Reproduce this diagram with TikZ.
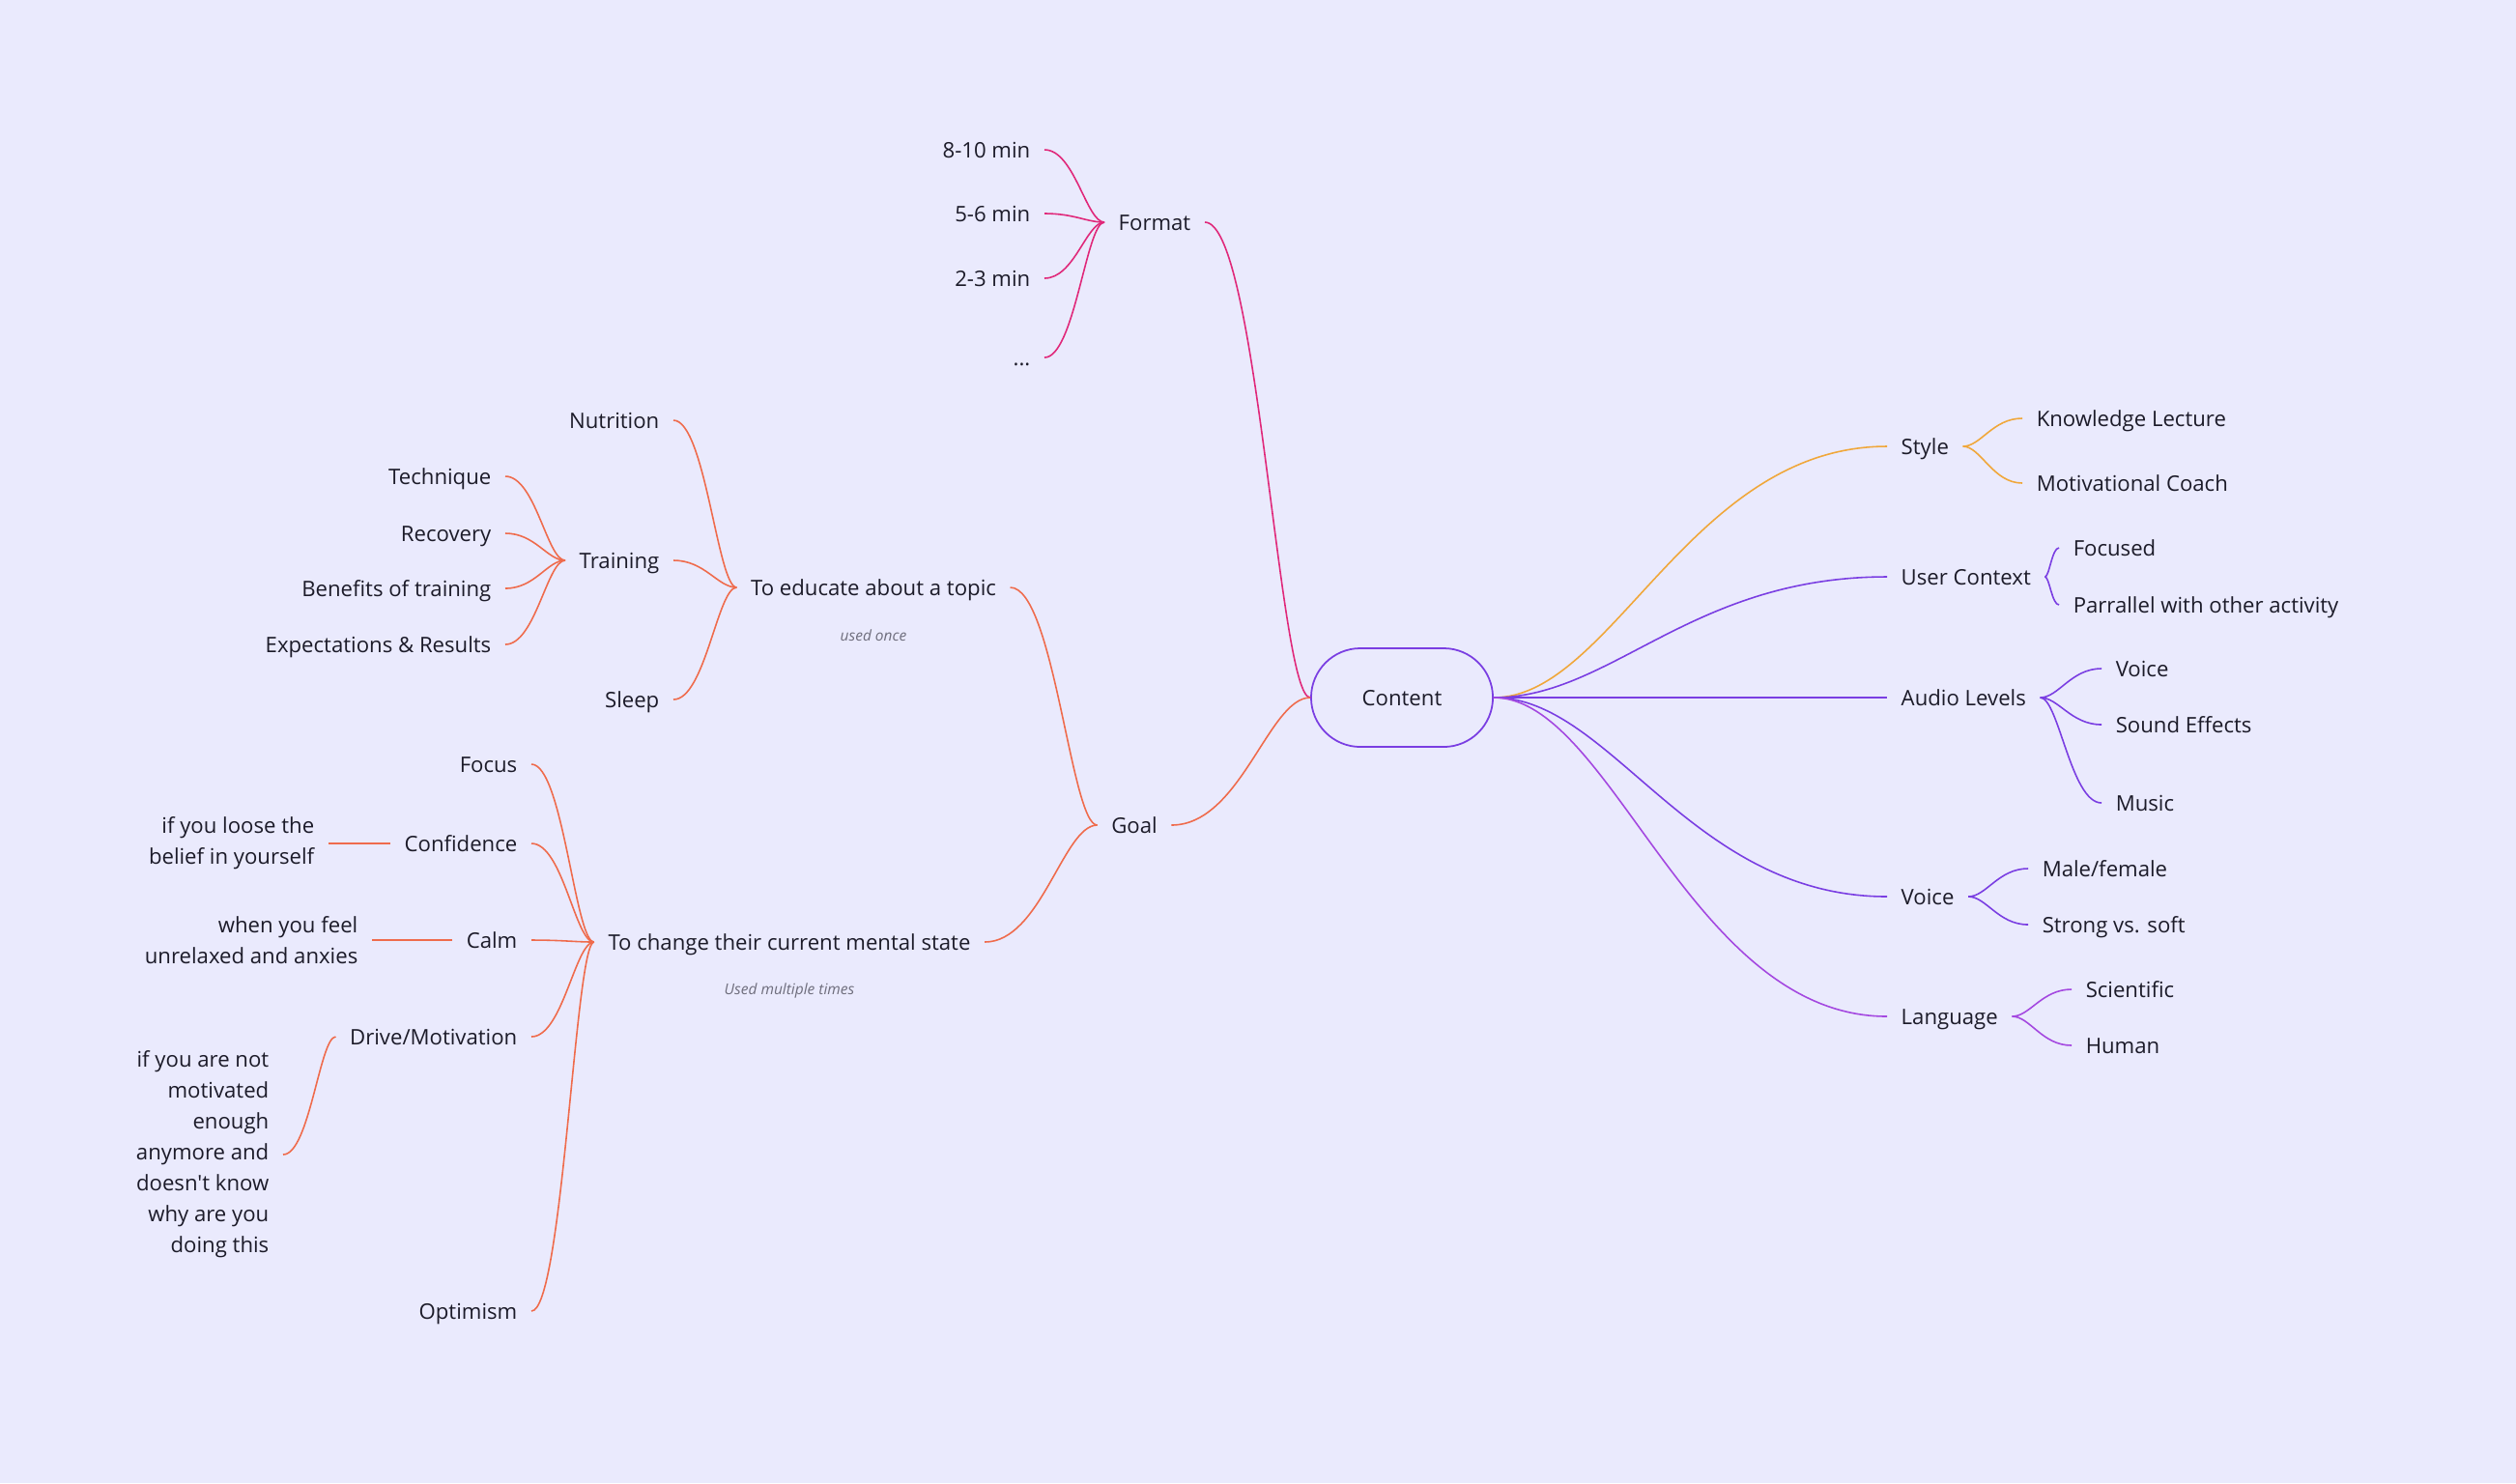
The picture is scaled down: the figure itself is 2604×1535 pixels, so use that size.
\documentclass[tikz,border=0pt]{standalone}
\usepackage{fontspec}
\setmainfont{Open Sans}[Ligatures=TeXOff]
\usetikzlibrary{positioning, calc}
\definecolor{mapbg}{HTML}{EAEAFD}
\definecolor{mapink}{HTML}{1C1B29}
\definecolor{mapnote}{HTML}{6E6D7C}
\definecolor{mappink}{HTML}{E0287A}
\definecolor{mapcoral}{HTML}{EF6B4C}
\definecolor{mapamber}{HTML}{F0A73A}
\definecolor{mapviolet}{HTML}{7A3EE2}
\definecolor{mapplum}{HTML}{A448E0}
% curved branch: parent anchor first, child anchor second
\newcommand{\branch}[3]{%
  \draw[#1] let \p1=(#2), \p2=(#3) in
    (\p1) .. controls ({\x1+0.3*(\x2-\x1)},\y1) and ({\x1+0.5*(\x2-\x1)},\y2) .. (\p2);}

\begin{document}
\begin{tikzpicture}[x=0.01cm, y=-0.01cm,
      base/.style={font=\fontsize{6.3}{9.1}\selectfont, text=mapink,
                   inner xsep=0.14cm, inner ysep=1pt},
      topic/.style={base, text height=6.5pt, text depth=1.5pt},
      aside/.style={base, align=right},
      note/.style={font=\fontsize{4.4}{5}\selectfont\itshape, text=mapnote,
                   inner sep=1pt},
      hub/.style={topic, draw=mapviolet, line width=0.5pt,
                  rounded corners=5.1mm, minimum width=1.88cm,
                  minimum height=1.02cm},
      pinkline/.style={draw=mappink, line width=0.45pt},
      coralline/.style={draw=mapcoral, line width=0.45pt},
      amberline/.style={draw=mapamber, line width=0.45pt},
      violetline/.style={draw=mapviolet, line width=0.45pt},
      plumline/.style={draw=mapplum, line width=0.45pt}]
    \fill[mapbg] (0,0) rectangle (2604,1535);
    \useasboundingbox (0,0) rectangle (2604,1535);

    \node[hub] (content) at (1451,722) {Content};

    % format
    \node[topic] (format) at (1195,230) {Format};
    \node[topic, anchor=east] (f810) at (1081,155) {8-10 min};
    \node[topic, anchor=east] (f56) at (1081,221) {5-6 min};
    \node[topic, anchor=east] (f23) at (1081,288) {2-3 min};
    \node[topic, anchor=east] (fmore) at (1081,370) {...};

    % goal
    \node[topic] (goal) at (1174,854) {Goal};
    \node[topic] (educate) at (904,608) {To educate about a topic};
    \node[note, below=0.21cm of educate] (once) {used once};
    \node[topic, anchor=east] (nutrition) at (697,435) {Nutrition};
    \node[topic] (training) at (641,580) {Training};
    \node[topic, anchor=east] (sleep) at (697,724) {Sleep};
    \node[topic, anchor=east] (technique) at (523,493) {Technique};
    \node[topic, anchor=east] (recovery) at (523,552) {Recovery};
    \node[topic, anchor=east] (benefits) at (523,609) {Benefits of training};
    \node[topic, anchor=east] (expect) at (523,667) {Expectations \& Results};

    \node[topic] (mental) at (817,975) {To change their current mental state};
    \node[note, below=0.2cm of mental] (often) {Used multiple times};
    \node[topic, anchor=east] (focus) at (550,791) {Focus};
    \node[topic, anchor=east] (confidence) at (550,873) {Confidence};
    \node[topic, anchor=east] (calm) at (550,973) {Calm};
    \node[topic, anchor=east] (drive) at (550,1073) {Drive/Motivation};
    \node[topic, anchor=east] (optimism) at (550,1357) {Optimism};
    \node[aside, left=0.64cm of confidence] (belief)
      {if you loose the\\belief in yourself};
    \node[aside, left=0.83cm of calm] (anxious)
      {when you feel\\unrelaxed and anxies};
    \node[aside, anchor=east] (purpose) at (293,1195)
      {if you are not\\motivated\\enough\\anymore and\\doesn't know\\why are you\\doing this};

    % right side
    \node[topic, anchor=west] (style) at (1953,462) {Style};
    \node[topic, anchor=west] (knowledge) at (2093,433) {Knowledge Lecture};
    \node[topic, anchor=west] (coach) at (2093,500) {Motivational Coach};
    \node[topic, anchor=west] (context) at (1953,597) {User Context};
    \node[topic, anchor=west] (focused) at (2131,567) {Focused};
    \node[topic, anchor=west] (parallel) at (2131,626) {Parrallel with other activity};
    \node[topic, anchor=west] (audio) at (1953,722) {Audio Levels};
    \node[topic, anchor=west] (avoice) at (2175,692) {Voice};
    \node[topic, anchor=west] (effects) at (2175,750) {Sound Effects};
    \node[topic, anchor=west] (music) at (2175,831) {Music};
    \node[topic, anchor=west] (voice) at (1953,928) {Voice};
    \node[topic, anchor=west] (gender) at (2099,899) {Male/female};
    \node[topic, anchor=west] (strength) at (2099,957) {Strong vs. soft};
    \node[topic, anchor=west] (language) at (1953,1052) {Language};
    \node[topic, anchor=west] (science) at (2144,1024) {Scientific};
    \node[topic, anchor=west] (human) at (2144,1082) {Human};

    % branches
    \branch{pinkline}{content.west}{format.east}
    \foreach \leaf in {f810,f56,f23,fmore}
      {\branch{pinkline}{format.west}{\leaf.east}}
    \branch{coralline}{content.west}{goal.east}
    \branch{coralline}{goal.west}{educate.east}
    \branch{coralline}{goal.west}{mental.east}
    \foreach \leaf in {nutrition,training,sleep}
      {\branch{coralline}{educate.west}{\leaf.east}}
    \foreach \leaf in {technique,recovery,benefits,expect}
      {\branch{coralline}{training.west}{\leaf.east}}
    \foreach \leaf in {focus,confidence,calm,drive,optimism}
      {\branch{coralline}{mental.west}{\leaf.east}}
    \branch{coralline}{confidence.west}{belief.east}
    \branch{coralline}{calm.west}{anxious.east}
    \branch{coralline}{drive.west}{purpose.east}

    \branch{amberline}{content.east}{style.west}
    \branch{amberline}{style.east}{knowledge.west}
    \branch{amberline}{style.east}{coach.west}
    \foreach \kid in {context,audio,voice}
      {\branch{violetline}{content.east}{\kid.west}}
    \branch{violetline}{context.east}{focused.west}
    \branch{violetline}{context.east}{parallel.west}
    \foreach \leaf in {avoice,effects,music}
      {\branch{violetline}{audio.east}{\leaf.west}}
    \branch{violetline}{voice.east}{gender.west}
    \branch{violetline}{voice.east}{strength.west}
    \branch{plumline}{content.east}{language.west}
    \branch{plumline}{language.east}{science.west}
    \branch{plumline}{language.east}{human.west}
\end{tikzpicture}
\end{document}
